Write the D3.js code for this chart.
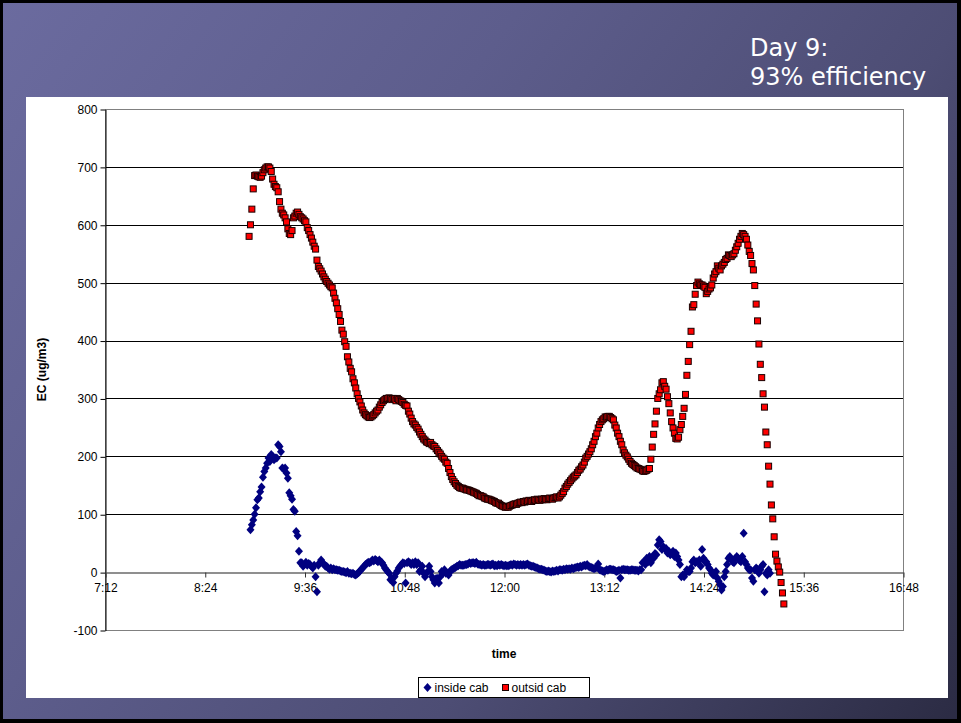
<!DOCTYPE html>
<html>
<head>
<meta charset="utf-8">
<script src="https://cdn.jsdelivr.net/npm/d3@7"></script>
<style>
  body { margin: 0; background: #000; }
  svg { display: block; font-family: "Liberation Sans", Arial, sans-serif; }
</style>
</head>
<body>
<svg id="chart" width="961" height="723"></svg>
<script>
// DATA
var titleLines = ["Day 9:", "93% efficiency"];
var seriesNames = ["inside cab", "outsid cab"];
var yTicks = [-100, 0, 100, 200, 300, 400, 500, 600, 700, 800];
var xTickLabels = ["7:12", "8:24", "9:36", "10:48", "12:00", "13:12", "14:24", "15:36", "16:48"];

// one reading per minute
var insideStart = "8:57";
var insideCab = [
  73, 82, 90, 100, 111, 125, 128, 139, 147, 164,
  174, 180, 188, 197, 191, 203, 200, 194, 197, 197,
  220, 217, 208, 180, 178, 180, 171, 162, 137, 132,
  126, 108, 105, 70, 63, 36, 16, 16, 10, 13,
  17, 12, 15, 13, 10, 7, 12, -8, -34, 12,
  16, 21, 16, 14, 10, 10, 7, 5, 7, 4,
  6, 4, 4, 3, 3, 2, 1, 1, 0, -1,
  1, -2, -2, -3, -2, -4, -5, -3, -1, 2,
  5, 7, 10, 13, 15, 17, 16, 18, 21, 19,
  22, 20, 18, 21, 18, 16, 12, 7, 4, 1,
  -2, -13, -10, -18, -8, -2, 2, 7, 10, 13,
  16, 15, -19, 16, 18, 16, 13, 16, 13, 18,
  13, 16, 1, 4, 10, -2, -8, -2, 1, 10,
  1, -8, -13, -19, -11, -11, -19, -8, 1, -2,
  4, -2, -2, -5, 1, 4, 5, 7, 8, 10,
  11, 13, 12, 12, 12, 13, 13, 14, 16, 15,
  16, 16, 15, 17, 14, 13, 13, 12, 13, 12,
  12, 13, 13, 12, 13, 14, 11, 12, 11, 13,
  12, 13, 12, 11, 12, 11, 11, 12, 13, 12,
  14, 13, 12, 13, 12, 13, 12, 13, 12, 13,
  14, 12, 11, 10, 10, 9, 8, 7, 6, 5,
  5, 4, 3, 2, 1, 2, 1, 0, 2, 1,
  2, 3, 2, 4, 4, 3, 5, 4, 6, 5,
  6, 5, 7, 6, 7, 8, 9, 8, 10, 9,
  11, 12, 11, 13, 10, 9, 8, 7, 6, 7,
  8, 14, 4, 3, 2, 1, 2, 4, 3, 5,
  5, 4, 4, 3, 1, 2, 3, -10, 4, 5,
  4, 4, 4, 3, 3, 4, 4, 3, 3, 3,
  2, 4, 4, 16, 18, 13, 24, 18, 27, 16,
  26, 24, 32, 30, 47, 56, 53, 39, 44, 41,
  41, 33, 36, 30, 33, 36, 27, 33, 27, 21,
  13, -8, -5, -8, -2, 4, 1, 1, 7, 18,
  21, 16, 18, 18, 21, 10, 39, 24, 18, 18,
  13, 7, 4, -2, -5, -5, 1, -10, -16, -22,
  -31, -25, -8, 1, 13, 24, 27, 22, 18, 16,
  24, 27, 24, 20, 18, 27, 67, 18, 13, 7,
  4, 4, -10, -16, 4, 7, 5, -2, 4, 10,
  13, -34, -2, -5, 4, -2
];

var outsideStart = "8:56";
var outsideCab = [
  580, 600, 627, 662, 685, 686, 684, 683, 682, 684,
  690, 695, 698, 700, 700, 698, 692, 679, 670, 666,
  664, 657, 640, 627, 620, 617, 612, 605, 593, 585,
  583, 590, 612, 615, 620, 622, 618, 614, 612, 610,
  607, 605, 595, 590, 583, 577, 570, 563, 558, 539,
  528, 524, 520, 515, 510, 506, 502, 499, 496, 493,
  491, 482, 473, 465, 455, 445, 433, 418, 411, 398,
  390, 372, 363, 352, 346, 334, 327, 318, 308, 300,
  294, 287, 280, 275, 272, 270, 268, 267, 268, 270,
  272, 275, 278, 280, 285, 289, 293, 296, 298, 300,
  300, 301, 300, 298, 300, 299, 296, 300, 298, 296,
  295, 293, 290, 288, 287, 278, 273, 266, 260, 256,
  254, 250, 247, 242, 238, 234, 230, 228, 225, 224,
  222, 224, 220, 218, 217, 213, 210, 207, 204, 200,
  197, 195, 190, 188, 179, 172, 165, 160, 156, 153,
  150, 148, 146, 145, 145, 144, 143, 142, 142, 141,
  140, 139, 138, 137, 136, 134, 132, 132, 131, 130,
  128, 127, 126, 126, 125, 124, 123, 122, 120, 119,
  119, 117, 115, 114, 113, 112, 113, 112, 114, 115,
  116, 117, 118, 117, 119, 120, 121, 120, 122, 121,
  123, 122, 124, 123, 122, 124, 125, 124, 126, 125,
  124, 126, 125, 127, 126, 125, 127, 128, 127, 126,
  128, 129, 130, 128, 130, 133, 136, 139, 145, 148,
  152, 155, 158, 161, 164, 166, 168, 172, 176, 178,
  182, 185, 190, 197, 200, 204, 208, 213, 220, 226,
  234, 240, 249, 255, 260, 263, 265, 268, 268, 269,
  269, 267, 265, 263, 254, 249, 240, 234, 226, 220,
  211, 206, 202, 199, 195, 191, 188, 186, 184, 182,
  180, 179, 178, 177, 175, 174, 175, 176, 178, 179,
  195, 216, 238, 256, 278, 300, 308, 315, 327, 329,
  321, 316, 303, 291, 275, 260, 249, 240, 231, 230,
  233, 246, 255, 269, 283, 307, 340, 364, 393, 416,
  458, 462, 480, 495, 501, 498, 496, 496, 494, 492,
  481, 485, 489, 491, 496, 508, 515, 519, 529, 525,
  522, 529, 532, 535, 540, 542, 548, 547, 545, 548,
  550, 556, 562, 568, 575, 580, 585, 583, 580, 575,
  565, 554, 547, 533, 522, 495, 463, 434, 394, 359,
  336, 308, 285, 242, 220, 183, 152, 116, 92, 61,
  31, 19, 9, 0, -18, -36, -55
];

function toMin(s) {
  var p = s.split(":");
  return +p[0] * 60 + +p[1];
}
function series(start, vals) {
  var t0 = toMin(start);
  return vals.map(function (v, i) { return { t: t0 + i, v: v }; });
}

var svg = d3.select("#chart"),
    width = +svg.attr("width"),
    height = +svg.attr("height");

// slide background
var defs = svg.append("defs");
var grad = defs.append("linearGradient")
    .attr("id", "bg")
    .attr("gradientUnits", "userSpaceOnUse")
    .attr("x1", 0).attr("y1", 0).attr("x2", width).attr("y2", height);
grad.append("stop").attr("offset", 0).attr("stop-color", "#6b6b9f");
grad.append("stop").attr("offset", 0.35).attr("stop-color", "#5d5d8c");
grad.append("stop").attr("offset", 0.65).attr("stop-color", "#4d4d74");
grad.append("stop").attr("offset", 1).attr("stop-color", "#2b2b43");

svg.append("rect").attr("width", width).attr("height", height).attr("fill", "#000");
svg.append("rect")
    .attr("x", 3).attr("y", 3)
    .attr("width", width - 7).attr("height", height - 7)
    .attr("fill", "url(#bg)");

// title
svg.append("g").selectAll("text")
  .data(titleLines)
  .enter().append("text")
    .attr("x", 750)
    .attr("y", (d, i) => 56 + i * 29)
    .attr("fill", "#fff")
    .style("font-family", "'DejaVu Sans', Verdana, sans-serif")
    .style("font-size", "24px")
    .text(d => d);

// chart area
svg.append("rect")
    .attr("x", 26).attr("y", 97)
    .attr("width", 922).attr("height", 601)
    .attr("fill", "#fff");

var plot = { left: 105, right: 903, top: 109, bottom: 630 };

var x = d3.scaleLinear()
    .domain([toMin(xTickLabels[0]), toMin(xTickLabels[xTickLabels.length - 1])])
    .range([plot.left, plot.right]);
var y = d3.scaleLinear()
    .domain([yTicks[0], yTicks[yTicks.length - 1]])
    .range([plot.bottom, plot.top]);

// gridlines
svg.append("g")
    .attr("class", "grid")
    .selectAll("line")
    .data(yTicks.filter(d => d > 0))
    .enter().append("line")
    .attr("x1", plot.left).attr("x2", plot.right)
    .attr("y1", d => Math.round(y(d)) + 0.5)
    .attr("y2", d => Math.round(y(d)) + 0.5)
    .attr("stroke", "#000");

svg.append("rect")
    .attr("x", plot.left + 0.5).attr("y", Math.round(y(800)) + 0.5)
    .attr("width", plot.right - plot.left)
    .attr("height", Math.round(y(-100)) - Math.round(y(800)))
    .attr("fill", "none")
    .attr("stroke", "#808080");

// y axis
var yAxis = svg.append("g")
    .attr("transform", "translate(" + (plot.left + 0.5) + ",0.5)")
    .call(d3.axisLeft(y).tickValues(yTicks).tickFormat(d => String(d))
      .tickSize(5).tickSizeOuter(0).tickPadding(3));
yAxis.select(".domain").attr("stroke", "#000");
yAxis.selectAll("text")
    .style("font-family", "'Liberation Sans', Arial, sans-serif")
    .style("font-size", "12px")
    .attr("fill", "#000");

// x axis, crossing at 0
var xAxis = svg.append("g")
    .attr("transform", "translate(0.5," + (Math.round(y(0)) + 0.5) + ")")
    .call(d3.axisBottom(x)
      .tickValues(xTickLabels.map(toMin))
      .tickFormat((d, i) => xTickLabels[i])
      .tickSize(5).tickSizeOuter(0).tickPadding(6));
xAxis.select(".domain").attr("stroke", "#6a6a6a").attr("stroke-width", 1.5);
xAxis.selectAll(".tick line").attr("stroke", "#333");
xAxis.selectAll("text")
    .style("font-family", "'Liberation Sans', Arial, sans-serif")
    .style("font-size", "12px")
    .attr("fill", "#000");

// axis titles
svg.append("text")
    .attr("transform", "translate(46," + ((plot.top + plot.bottom) / 2) + ") rotate(-90)")
    .attr("text-anchor", "middle")
    .style("font-size", "12px")
    .style("font-weight", "bold")
    .text("EC (ug/m3)");

svg.append("text")
    .attr("x", (plot.left + plot.right) / 2)
    .attr("y", 658)
    .attr("text-anchor", "middle")
    .style("font-size", "12px")
    .style("font-weight", "bold")
    .text("time");

// markers
var diamond = "M0,-4.5L4,0L0,4.5L-4,0Z";

svg.append("g")
    .attr("class", "inside")
    .selectAll("path")
    .data(series(insideStart, insideCab))
    .enter().append("path")
    .attr("d", diamond)
    .attr("transform", d => "translate(" + x(d.t) + "," + y(d.v) + ")")
    .attr("fill", "#000080");

svg.append("g")
    .attr("class", "outside")
    .selectAll("rect")
    .data(series(outsideStart, outsideCab))
    .enter().append("rect")
    .attr("x", d => x(d.t) - 3)
    .attr("y", d => y(d.v) - 3)
    .attr("width", 6).attr("height", 6)
    .attr("fill", "#ff0000")
    .attr("stroke", "#1a0000")
    .attr("stroke-width", 1);

// legend
var legend = svg.append("g").attr("transform", "translate(418.5,677.5)");
legend.append("rect")
    .attr("width", 171).attr("height", 20)
    .attr("fill", "#fff").attr("stroke", "#000");
legend.append("path")
    .attr("d", diamond)
    .attr("transform", "translate(9,10)")
    .attr("fill", "#000080");
legend.append("rect")
    .attr("x", 84).attr("y", 7).attr("width", 6).attr("height", 6)
    .attr("fill", "#ff0000").attr("stroke", "#1a0000");
legend.selectAll("text")
    .data(seriesNames)
    .enter().append("text")
    .attr("x", (d, i) => i ? 93 : 16)
    .attr("y", 14.5)
    .style("font-size", "12px")
    .text(d => d);
</script>
</body>
</html>
